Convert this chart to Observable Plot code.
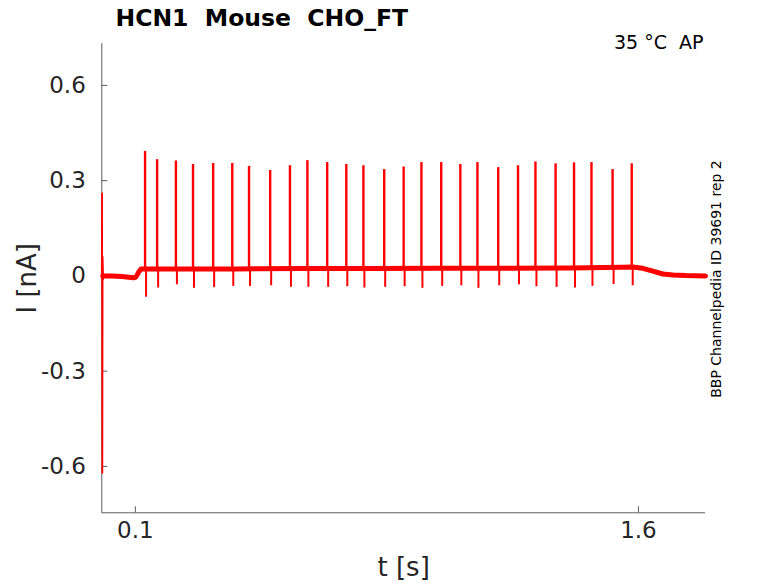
<!DOCTYPE html>
<html><head><meta charset="utf-8">
<script src="https://cdn.jsdelivr.net/npm/d3@7"></script>
<script src="https://cdn.jsdelivr.net/npm/@observablehq/plot@0.6"></script>
<style>
body{margin:0;background:#fff;}
svg text{white-space:pre;}
</style></head><body><div id="chart"></div>
<script>
// ---- text ----
const titleText = "HCN1  Mouse  CHO_FT";
const condText = "35 °C  AP";
const sideText = "BBP Channelpedia ID 39691 rep 2";
const xLabel = "t [s]";
const yLabel = "I [nA]";

// ---- axes ----
const xDomain = [0, 1.8];
const yDomain = [-0.746, 0.731];
const xTicks = [0.1, 1.6];
const yTicks = [-0.6, -0.3, 0, 0.3, 0.6];
const yTickLabels = ["-0.6", "-0.3", "0", "0.3", "0.6"];

// ---- initial capacitive transient ----
const transientT = [0.0, 0.0008, 0.0016, 0.0024, 0.004, 0.006];
const transientV = [0.0, 0.26, -0.62, 0.06, -0.01, 0.0];

// ---- baseline (centre of noisy band) ----
const baseT = [0.003, 0.03, 0.06, 0.08, 0.095, 0.102, 0.11, 0.117, 0.2, 0.4, 0.6, 0.8, 1.0, 1.2, 1.4, 1.55, 1.583, 1.613, 1.643, 1.673, 1.703, 1.741, 1.8];
const baseV = [0.0, 0.0, -0.002, -0.004, -0.006, -0.003, 0.012, 0.022, 0.022, 0.022, 0.023, 0.023, 0.024, 0.024, 0.025, 0.027, 0.028, 0.024, 0.015, 0.006, 0.003, 0.001, 0.0];

// ---- action-potential-clamp spikes ----
const spikeT = [0.129, 0.165, 0.221, 0.272, 0.332, 0.389, 0.439, 0.502, 0.561, 0.613, 0.672, 0.729, 0.780, 0.842, 0.900, 0.953, 1.012, 1.069, 1.120, 1.182, 1.241, 1.293, 1.353, 1.408, 1.460, 1.523, 1.580];
const spikePeak = [0.392, 0.366, 0.362, 0.351, 0.354, 0.354, 0.345, 0.332, 0.347, 0.363, 0.357, 0.351, 0.347, 0.335, 0.343, 0.357, 0.357, 0.351, 0.357, 0.341, 0.347, 0.359, 0.353, 0.356, 0.357, 0.335, 0.353];
const spikeTrough = [-0.067, -0.038, -0.028, -0.039, -0.037, -0.033, -0.033, -0.031, -0.036, -0.036, -0.036, -0.034, -0.038, -0.036, -0.034, -0.039, -0.033, -0.031, -0.039, -0.031, -0.028, -0.034, -0.036, -0.038, -0.033, -0.027, -0.031];

// ---- build tables ----
const transient = transientT.map((t, i) => ({t, v: transientV[i]}));
const baseline = baseT.map((t, i) => ({t, v: baseV[i]}));
const baseAt = t => {
  const i = Math.max(1, Math.min(baseT.length - 1, d3.bisectLeft(baseT, t)));
  const t0 = baseT[i - 1], t1 = baseT[i];
  return baseV[i - 1] + (baseV[i] - baseV[i - 1]) * (t - t0) / (t1 - t0);
};
const spikes = spikeT.map((t, i) => ({t, base: baseAt(t), peak: spikePeak[i], trough: spikeTrough[i]}));

const red = "#ff0000";
const axisCol = "#5a5a5a";
const textCol = "#262626";

const chart = Plot.plot({
  width: 778,
  height: 583,
  marginLeft: 101.3,
  marginRight: 73,
  marginTop: 43.3,
  marginBottom: 70.7,
  style: {fontFamily: "DejaVu Sans", background: "white", color: textCol},
  x: {domain: xDomain},
  y: {domain: yDomain},
  marks: [
    // axis lines
    Plot.ruleX([xDomain[0]], {stroke: axisCol, strokeWidth: 1}),
    Plot.ruleY([yDomain[0]], {stroke: axisCol, strokeWidth: 1}),
    // inward tick marks
    Plot.axisY({ticks: yTicks, tickSize: 6, dx: 6, tickFormat: () => "", label: null, stroke: axisCol}),
    Plot.axisX({ticks: xTicks, tickSize: 6, dy: -6, tickFormat: () => "", label: null, stroke: axisCol}),
    // tick labels
    Plot.axisY({ticks: yTicks, tickSize: 0, tickPadding: 16, tickFormat: d => yTickLabels[yTicks.indexOf(d)], label: null, fontSize: 23, fill: textCol}),
    Plot.axisX({ticks: xTicks, tickSize: 0, tickPadding: 9, tickFormat: d => String(d), label: null, fontSize: 23, fill: textCol}),
    // data
    Plot.line(baseline, {x: "t", y: "v", stroke: red, strokeWidth: 5, strokeLinejoin: "round"}),
    Plot.ruleX(spikes, {x: "t", y1: "base", y2: "peak", stroke: red, strokeWidth: 2.4}),
    Plot.ruleX(spikes, {x: "t", y1: "base", y2: "trough", stroke: red, strokeWidth: 2, dx: 1}),
    Plot.line(transient, {x: "t", y: "v", stroke: red, strokeWidth: 1.8}),
    // labels
    Plot.text([xLabel], {frameAnchor: "bottom", dy: 55, lineAnchor: "middle", fontSize: 26, fill: textCol}),
    Plot.text([yLabel], {frameAnchor: "left", dx: -74, rotate: -90, textAnchor: "middle", lineAnchor: "middle", fontSize: 26, fill: textCol}),
    Plot.text([titleText], {frameAnchor: "top-left", textAnchor: "start", dx: 13.7, dy: -25.3, lineAnchor: "middle", fontSize: 23.5, fontWeight: "bold", fill: "#000"}),
    Plot.text([condText], {frameAnchor: "top-right", textAnchor: "end", dx: -2, dy: -1.3, lineAnchor: "middle", fontSize: 19, fill: "#000"}),
    Plot.text([sideText], {frameAnchor: "right", dx: 11.5, dy: 0.7, rotate: -90, textAnchor: "middle", lineAnchor: "middle", fontSize: 14, fill: "#000"})
  ]
});
document.getElementById("chart").appendChild(chart);
</script></body></html>
